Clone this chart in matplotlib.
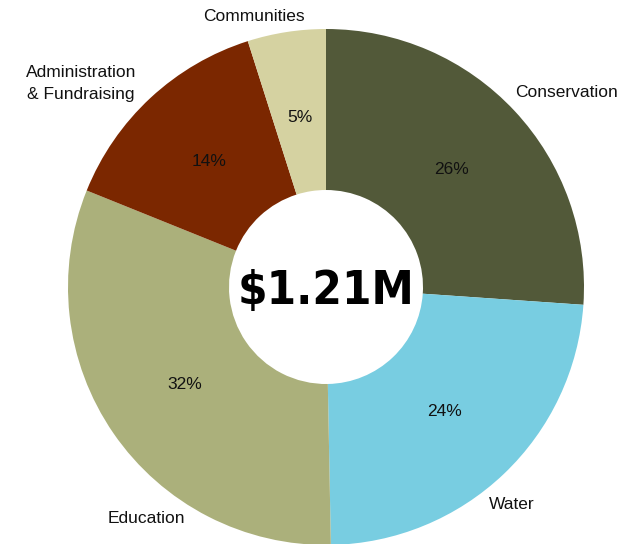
import matplotlib
matplotlib.use('Agg')
import matplotlib.pyplot as plt
from matplotlib import font_manager
import numpy as np

# budget breakdown
categories = ['Conservation', 'Water', 'Education', 'Administration\n& Fundraising', 'Communities']
shares = [26.1, 23.6, 31.4, 14.0, 4.9]
pct_labels = ['26%', '24%', '32%', '14%', '5%']
total_label = '$1.21M'

colors = ['#525939', '#78cde1', '#abb07b', '#7b2700', '#d5d2a1']
# label placement tweaks: (angle offset in degrees, radius factor)
label_nudge = [(-4, 1.20), (-3, 1.11), (17.7, 1.135), (7.5, 1.235), (6, 1.085)]

plt.rcParams['font.family'] = ['Liberation Sans', 'DejaVu Sans']

# pick a condensed bold face for the centre figure if one is around
cond = [f for f in font_manager.fontManager.ttflist
        if 'ondensed' in f.fname or 'arrow' in f.fname]
cond_bold = [f for f in cond if 'Bold' in f.fname and 'Oblique' not in f.fname
             and 'Italic' not in f.fname]

fig = plt.figure(figsize=(6.39, 5.44), dpi=100)
ax = fig.add_axes([0, 0, 1, 1])

R = 258
hole = 97
wedges, _ = ax.pie(shares, colors=colors, startangle=90, counterclock=False,
                   radius=R, wedgeprops=dict(width=R - hole, linewidth=0))

for w, lab, pct, (da, rf) in zip(wedges, categories, pct_labels, label_nudge):
    mid = np.deg2rad((w.theta1 + w.theta2) / 2.)
    r = R * 0.665
    ax.text(r * np.cos(mid), r * np.sin(mid), pct, ha='center', va='center',
            fontsize=12.5, color='#111111')
    a = mid + np.deg2rad(da)
    ax.text(R * rf * np.cos(a), R * rf * np.sin(a), lab, ha='center', va='center',
            fontsize=12.5, color='#111111', linespacing=1.55)

size = 34
px = size * 100 / 72.
if cond_bold:
    fp = font_manager.FontProperties(fname=cond_bold[0].fname, size=size)
else:
    fp = font_manager.FontProperties(family='DejaVu Sans', weight='bold', size=size * 0.88)
ax.text(0, -0.36 * px, total_label, ha='center', va='baseline', fontproperties=fp,
        color='black')

ax.set_xlim(-326, 639 - 326)
ax.set_ylim(-(544 - 287), 287)
ax.set_aspect('equal')
ax.axis('off')

plt.savefig('out.png', dpi=100)
